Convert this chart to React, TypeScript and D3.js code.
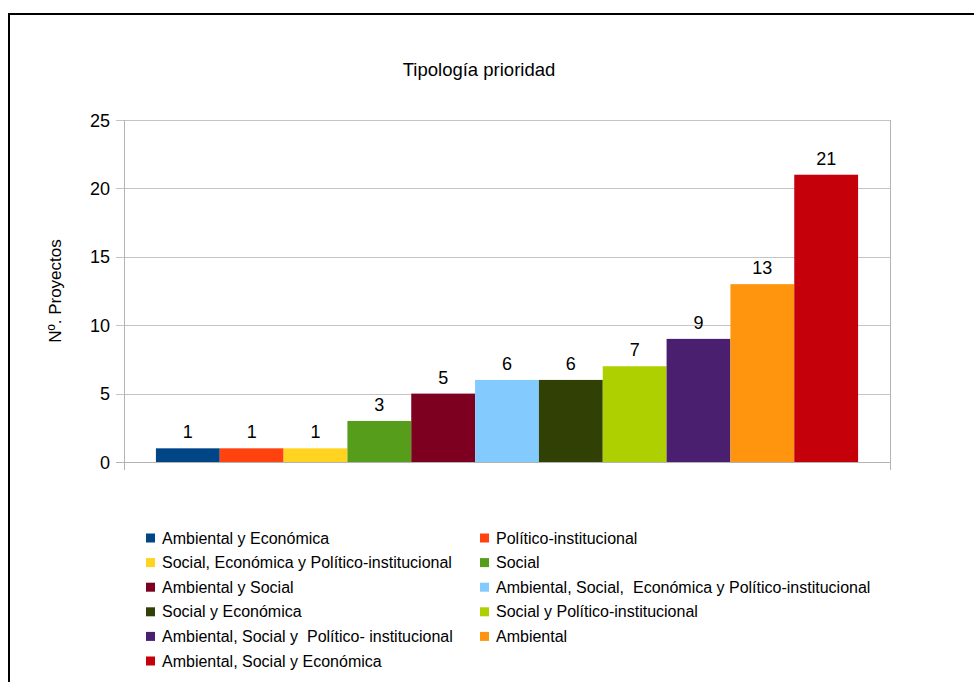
import React from "react";
import * as d3 from "d3";

const categories = [
  "Ambiental y Económica",
  "Político-institucional",
  "Social, Económica y Político-institucional",
  "Social",
  "Ambiental y Social",
  "Ambiental, Social,  Económica y Político-institucional",
  "Social y Económica",
  "Social y Político-institucional",
  "Ambiental, Social y  Político- institucional",
  "Ambiental",
  "Ambiental, Social y Económica",
];
const values = [1, 1, 1, 3, 5, 6, 6, 7, 9, 13, 21];
const colors = [
  "#004586", "#ff420e", "#ffd320", "#579d1c", "#7e0021", "#83caff",
  "#314004", "#aecf00", "#4b1f6f", "#ff950e", "#c5000b",
];
const yTicks = [0, 5, 10, 15, 20, 25];
const title = "Tipología prioridad";
const yTitle = "Nº. Proyectos";

const W = 974;
const H = 682;
const plot = { left: 124, right: 890, top: 120, bottom: 462 };
const FONT = "'Liberation Sans', Arial, sans-serif";

export default function App() {
  const y = d3.scaleLinear().domain([0, 25]).range([plot.bottom, plot.top]);
  const x = d3
    .scaleBand<string>()
    .domain(categories)
    .range([plot.left, plot.right])
    .paddingInner(0)
    .paddingOuter(0.5);

  const legendRowH = 24.6;
  const legendTop = 538;
  const legendCols = [146, 480];

  return (
    <div style={{ position: "absolute", left: 0, top: 0 }}>
      <svg width={W} height={H} style={{ display: "block" }} fontFamily={FONT}>
        <rect x={0} y={0} width={W} height={H} fill="#fff" />
        <rect x={9} y={14} width={1100} height={1100} fill="none" stroke="#000" strokeWidth={2} />
        <text x={479} y={76} textAnchor="middle" fontSize={18.5} fill="#000">
          {title}
        </text>
        {yTicks.map((t) => (
          <g key={t}>
            <line
              x1={plot.left - 8}
              x2={plot.right}
              y1={Math.round(y(t)) + 0.5}
              y2={Math.round(y(t)) + 0.5}
              stroke={t === 0 ? "#b3b3b3" : "#c4c4c4"}
              strokeWidth={1}
            />
            <text
              x={110}
              y={y(t) + 6.5}
              textAnchor="end"
              fontSize={18}
              fill="#000"
            >
              {t}
            </text>
          </g>
        ))}
        <line x1={plot.left + 0.5} x2={plot.left + 0.5} y1={plot.top} y2={plot.bottom + 8} stroke="#b3b3b3" />
        <line x1={plot.right + 0.5} x2={plot.right + 0.5} y1={plot.top} y2={plot.bottom + 8} stroke="#b3b3b3" />
        <text
          transform={`translate(61,291) rotate(-90)`}
          textAnchor="middle"
          fontSize={17}
          fill="#000"
        >
          {yTitle}
        </text>
        {categories.map((c, i) => (
          <g key={c}>
            <rect
              x={x(c)}
              y={y(values[i])}
              width={x.bandwidth()}
              height={y(0) - y(values[i])}
              fill={colors[i]}
            />
            <text
              x={(x(c) as number) + x.bandwidth() / 2}
              y={y(values[i]) - 10}
              textAnchor="middle"
              fontSize={18}
              fill="#000"
            >
              {values[i]}
            </text>
          </g>
        ))}
        {categories.map((c, i) => {
          const col = i % 2;
          const row = Math.floor(i / 2);
          const cy = legendTop + row * legendRowH;
          const lx = legendCols[col];
          return (
            <g key={"l" + c}>
              <rect x={lx} y={cy - 4.5} width={9} height={9} fill={colors[i]} />
              <text
                x={lx + 16}
                y={cy + 5.5}
                fontSize={16}
                fill="#000"
                style={{ whiteSpace: "pre" }}
              >
                {c}
              </text>
            </g>
          );
        })}
      </svg>
    </div>
  );
}
